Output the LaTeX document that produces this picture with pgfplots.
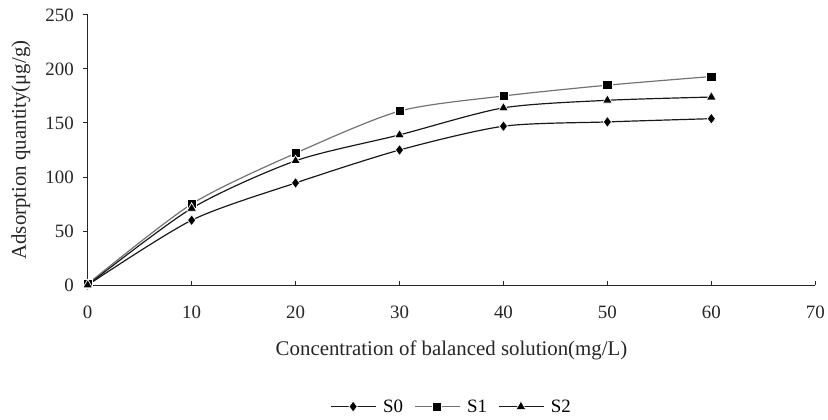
\documentclass[border=0pt]{standalone}
\usepackage{pgfplots}
\pgfplotsset{compat=1.18}
\usepackage{fontspec}
\setmainfont{Liberation Serif}
\definecolor{lgray}{RGB}{115,115,115}
\begin{document}
\begin{tikzpicture}
\begin{axis}[
  name=ax,
  scale only axis,
  width=730bp, height=271bp,
  xmin=0, xmax=70, ymin=0, ymax=250,
  xtick={0,10,...,70}, ytick={0,50,...,250},
  axis x line*=bottom, axis y line*=left,
  axis line style={line width=1pt, black!85, -},
  x tick style={line width=1pt, black!85},
  y tick style={line width=1pt, black!85},
  xtick align=inside, ytick align=outside,
  major tick length=4.5bp,
  tick label style={font=\fontsize{19}{21}\selectfont, text=black!85},
  /pgf/number format/assume math mode=true,
  xticklabel style={yshift=-17bp},
  yticklabel style={xshift=-6bp},
  xlabel={Concentration of balanced solution(mg/L)},
  ylabel={Adsorption quantity(μg/g)},
  label style={font=\fontsize{21}{23}\selectfont, text=black!85},
  xlabel style={at={(axis description cs:0.5,-0.2435)}, anchor=center},
  ylabel style={at={(axis description cs:-0.0918,0.5)}, anchor=center},
  legend columns=3,
  legend style={draw=none, at={(0.5,-0.45)}, anchor=center, font=\fontsize{19}{21}\selectfont,
    inner sep=0pt,
    /tikz/every odd column/.append style={column sep=5bp},
    /tikz/every even column/.append style={column sep=9bp}},
  legend image code/.code={%
    \draw[mark repeat=2,mark phase=2,#1] plot coordinates {(0bp,0bp) (22.5bp,0bp) (45bp,0bp)};},
  legend cell align=left,
  every axis plot/.append style={line width=1.2pt, smooth, tension=0.45},
]
\addplot[black!90, mark=diamond*, mark size=5.5bp, mark options={fill=black, draw=white, line width=0.7pt}]
  coordinates {(0,0) (10,60) (20,94.5) (30,125) (40,147) (50,151) (60,154)};
\addlegendentry{S0}
\addplot[lgray, mark=square*, mark size=4.6bp, mark options={fill=black, draw=white, line width=0.7pt}]
  coordinates {(0,1) (10,75) (20,122) (30,161) (40,175) (50,185) (60,193)};
\addlegendentry{S1}
\addplot[black!90, mark=triangle*, mark size=5.6bp, mark options={fill=black, draw=white, line width=0.7pt}]
  coordinates {(0,0) (10,71) (20,115) (30,139) (40,164) (50,171) (60,174)};
\addlegendentry{S2}
\end{axis}
\path (ax.south west) ++(-88bp,-135bp) coordinate (bl);
\path (ax.north east) ++(10bp,15bp) coordinate (tr);
\path (bl) rectangle (tr);
\end{tikzpicture}
\end{document}
